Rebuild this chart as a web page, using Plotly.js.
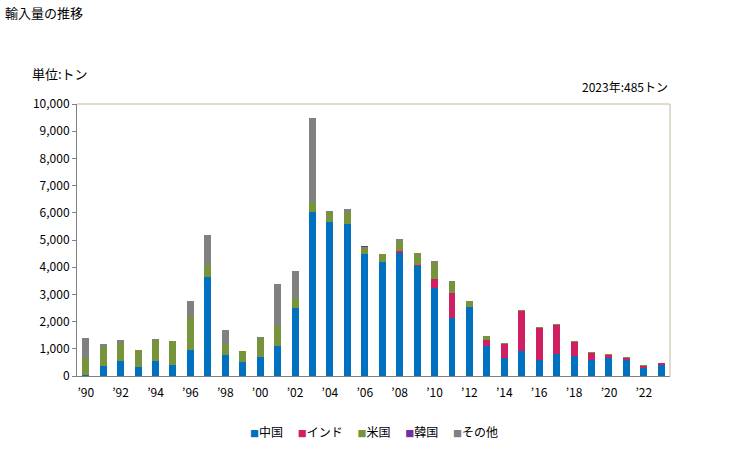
<!DOCTYPE html>
<html>
<head>
<meta charset="utf-8">
<script src="https://cdn.plot.ly/plotly-3.0.1.min.js"></script>
<style>html,body{margin:0;padding:0;background:#fff;}#chart{width:729px;height:450px;}</style>
</head>
<body>
<div id="chart"></div>
<script>
const years = [1990,1991,1992,1993,1994,1995,1996,1997,1998,1999,2000,2001,2002,2003,2004,2005,2006,2007,2008,2009,2010,2011,2012,2013,2014,2015,2016,2017,2018,2019,2020,2021,2022,2023];
const china  = [30,380,550,340,550,400,960,3630,770,510,700,1110,2490,6040,5680,5600,4470,4180,4540,4040,3240,2140,2530,1110,670,915,600,820,745,600,670,600,305,415];
const india  = [0,0,0,0,0,0,0,0,0,0,0,0,0,0,0,0,0,0,70,40,310,900,0,220,510,1465,1170,1050,500,240,100,60,75,60];
const usa    = [640,670,660,620,780,890,1200,440,410,400,690,720,370,370,340,430,290,290,370,460,590,440,220,150,30,50,40,40,35,40,50,35,35,10];
const korea  = [0,0,0,0,0,0,0,0,0,0,0,0,0,0,0,0,30,0,0,0,0,0,0,0,0,0,0,0,0,0,0,0,0,0];
const other  = [720,120,120,0,40,0,590,1100,500,0,40,1540,990,3080,60,120,0,0,70,0,70,0,10,0,0,0,0,0,0,0,0,0,0,0];
const tickYears = [1990,1992,1994,1996,1998,2000,2002,2004,2006,2008,2010,2012,2014,2016,2018,2020,2022];
const tickLabels = ["’90","’92","’94","’96","’98","’00","’02","’04","’06","’08","’10","’12","’14","’16","’18","’20","’22"];
const yTicks = [0,1000,2000,3000,4000,5000,6000,7000,8000,9000,10000];
const yLabels = ["0","1,000","2,000","3,000","4,000","5,000","6,000","7,000","8,000","9,000","10,000"];

const font = "'Noto Sans CJK JP', 'Noto Sans', sans-serif";
const series = [
  {name:"中国", y:china, color:"#0070c0"},
  {name:"インド", y:india, color:"#d01f63"},
  {name:"米国", y:usa, color:"#77933c"},
  {name:"韓国", y:korea, color:"#7030a0"},
  {name:"その他", y:other, color:"#808080"}
];
const data = series.map(s => ({
  type:"bar", x:years, y:s.y, name:s.name,
  marker:{color:s.color, line:{width:0}},
  showlegend:false,
  hoverinfo:"x+y+name"
}));

const legendText = series.map(s =>
  "<span style='color:" + s.color + ";font-size:9px'>■</span>" + s.name
).join("　 ");

const layout = {
  width:729, height:450,
  margin:{l:77, r:59, t:104, b:74, autoexpand:false},
  barmode:"stack",
  bargap:0.6,
  paper_bgcolor:"#fff", plot_bgcolor:"#fff",
  font:{family:font, size:12, color:"#000"},
  showlegend:false,
  xaxis:{range:[1989.5,2023.5], tickmode:"array", tickvals:tickYears, ticktext:tickLabels,
         showgrid:false, zeroline:false, showline:true, linecolor:"#808080", linewidth:1,
         ticks:"outside", ticklen:6, tickcolor:"rgba(0,0,0,0)", tickfont:{family:font, size:12}, fixedrange:true},
  yaxis:{range:[0,10000], tickmode:"array", tickvals:yTicks, ticktext:yLabels,
         showgrid:false, zeroline:false, showline:true, linecolor:"#808080", linewidth:1,
         ticks:"outside", ticklen:4, tickcolor:"#808080", tickfont:{family:font, size:12}, fixedrange:true},
  shapes:[
    {type:"line", xref:"paper", yref:"paper", x0:0, x1:1, y0:1, y1:1, line:{color:"#c4bc96", width:1}},
    {type:"line", xref:"paper", yref:"paper", x0:1, x1:1, y0:0, y1:1, line:{color:"#c4bc96", width:1}}
  ],
  annotations:[
    {text:"輸入量の推移", xref:"paper", yref:"paper", x:-0.124, y:1.338, xanchor:"left", yanchor:"middle", showarrow:false, font:{family:font, size:13}},
    {text:"単位:トン", xref:"paper", yref:"paper", x:-0.08, y:1.112, xanchor:"left", yanchor:"middle", showarrow:false, font:{family:font, size:13}},
    {text:"2023年:485トン", xref:"paper", yref:"paper", x:1.0, y:1.063, xanchor:"right", yanchor:"middle", showarrow:false, font:{family:font, size:12}},
    {text:legendText, xref:"paper", yref:"paper", x:0.5, y:-0.205, xanchor:"center", yanchor:"middle", showarrow:false, font:{family:font, size:12}}
  ]
};
Plotly.newPlot("chart", data, layout, {displayModeBar:false, staticPlot:true});
</script>
</body>
</html>
